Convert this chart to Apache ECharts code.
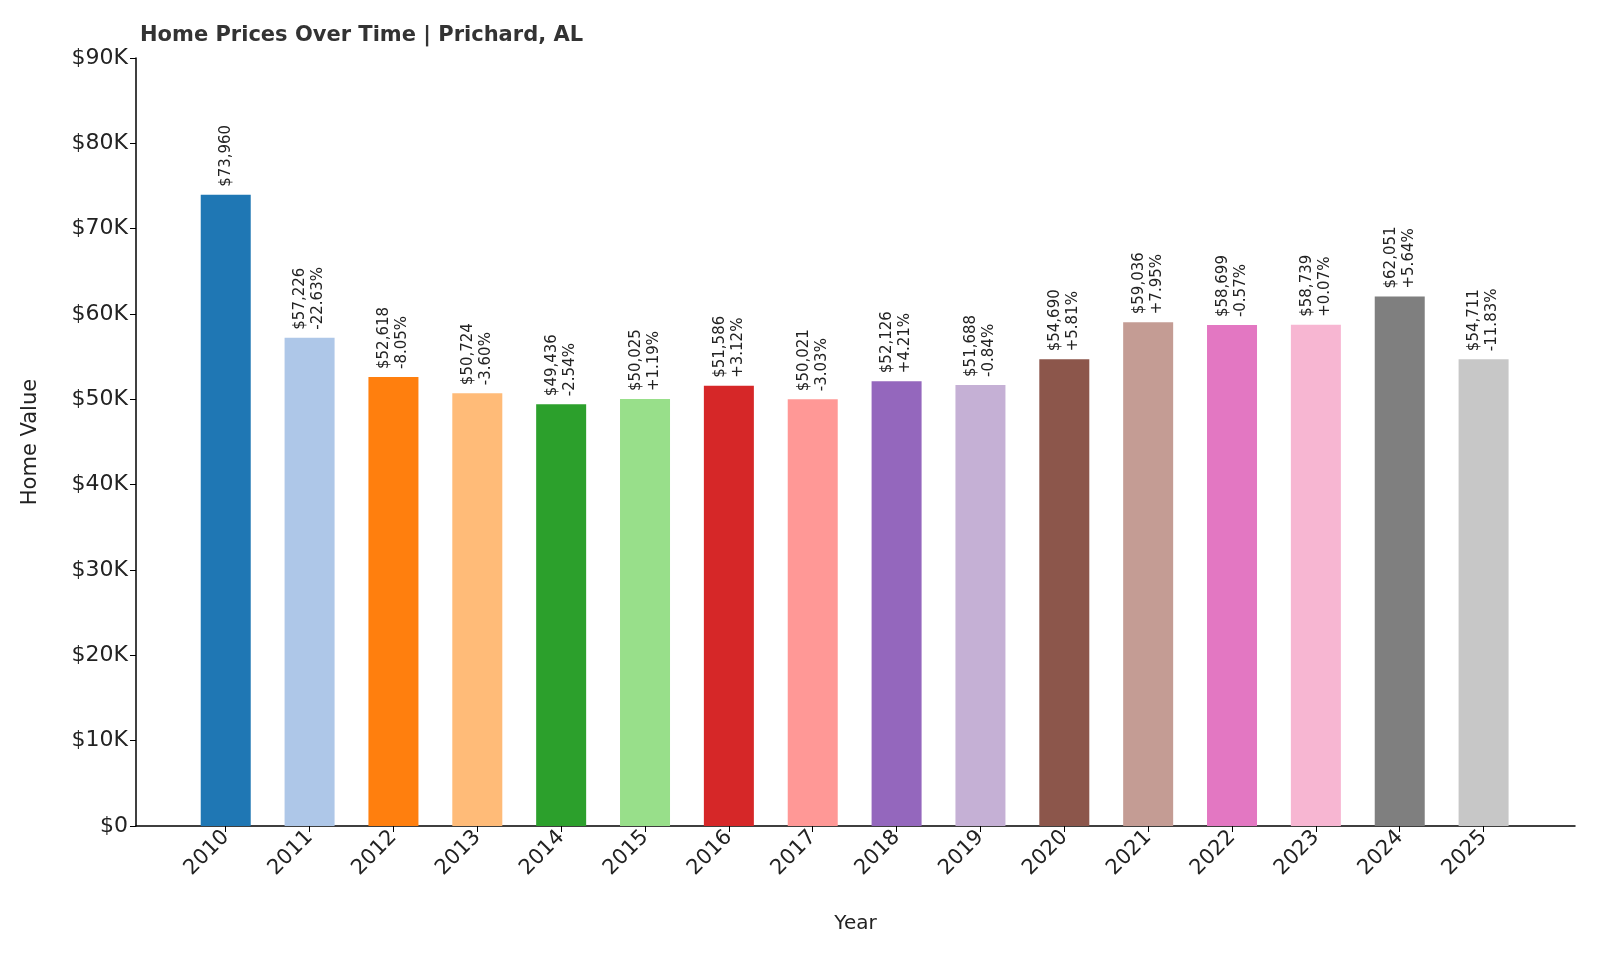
<!DOCTYPE html>
<html>
<head>
<meta charset="utf-8">
<script src="https://cdn.jsdelivr.net/npm/echarts@6/dist/echarts.min.js"></script>
<style>html,body{margin:0;padding:0;background:#fff}#chart{width:1600px;height:960px}</style>
</head>
<body>
<div id="chart"></div>
<script>
var years = ['2010','2011','2012','2013','2014','2015','2016','2017','2018','2019','2020','2021','2022','2023','2024','2025'];
var values = [73960,57226,52618,50724,49436,50025,51586,50021,52126,51688,54690,59036,58699,58739,62051,54711];
var changes = ['','-22.63%','-8.05%','-3.60%','-2.54%','+1.19%','+3.12%','-3.03%','+4.21%','-0.84%','+5.81%','+7.95%','-0.57%','+0.07%','+5.64%','-11.83%'];
var colors = ['#1f77b4','#aec7e8','#ff7f0e','#ffbb78','#2ca02c','#98df8a','#d62728','#ff9896','#9467bd','#c5b0d5','#8c564b','#c49c94','#e377c2','#f7b6d2','#7f7f7f','#c7c7c7'];

var chart = echarts.init(document.getElementById('chart'));
var idx = years.map(function(y, i){ return i; });

var option = {
	animation: false,
	title: {
		text: 'Home Prices Over Time | Prichard, AL',
		left: 135, top: 20,
		textStyle: { fontSize: 21, fontWeight: 'bold', color: '#333', fontFamily: 'DejaVu Sans' }
	},
	grid: { left: 136, right: 25, top: 58, bottom: 134 },
	xAxis: {
		type: 'value', min: -1.07, max: 16.09,
		name: 'Year', nameLocation: 'middle', nameGap: 88,
		nameTextStyle: { fontSize: 20, color: '#222', fontFamily: 'DejaVu Sans' },
		splitLine: { show: false },
		axisLine: { lineStyle: { color: '#000', width: 1.5 } },
		axisTick: { customValues: idx, length: 6, lineStyle: { color: '#000' } },
		axisLabel: {
			customValues: idx, rotate: 45, fontSize: 21, color: '#222', fontFamily: 'DejaVu Sans',
			formatter: function(v){ return years[Math.round(v)]; }
		}
	},
	yAxis: {
		type: 'value', min: 0, max: 90000, interval: 10000,
		name: 'Home Value', nameLocation: 'middle', nameGap: 95,
		nameTextStyle: { fontSize: 21, color: '#222', fontFamily: 'DejaVu Sans' },
		splitLine: { show: false },
		axisLine: { show: true, onZero: false, lineStyle: { color: '#000', width: 1.5 } },
		axisTick: { show: true, length: 6, lineStyle: { color: '#000' } },
		axisLabel: {
			fontSize: 22, color: '#222', fontFamily: 'DejaVu Sans',
			formatter: function(v){ return v === 0 ? '$0' : '$' + (v / 1000) + 'K'; }
		}
	},
	series: [{
		type: 'bar',
		barWidth: 50,
		data: values.map(function(v, i){
			return { value: [i, v], itemStyle: { color: colors[i] } };
		}),
		label: {
			show: true, position: 'top', rotate: 90, distance: 8,
			align: 'left', verticalAlign: 'middle',
			fontSize: 15, lineHeight: 18, color: '#222', fontFamily: 'DejaVu Sans',
			formatter: function(p){
				var s = '$' + values[p.dataIndex].toLocaleString('en-US');
				return changes[p.dataIndex] ? s + '\n' + changes[p.dataIndex] : s;
			}
		}
	}]
};
chart.setOption(option);
</script>
</body>
</html>
